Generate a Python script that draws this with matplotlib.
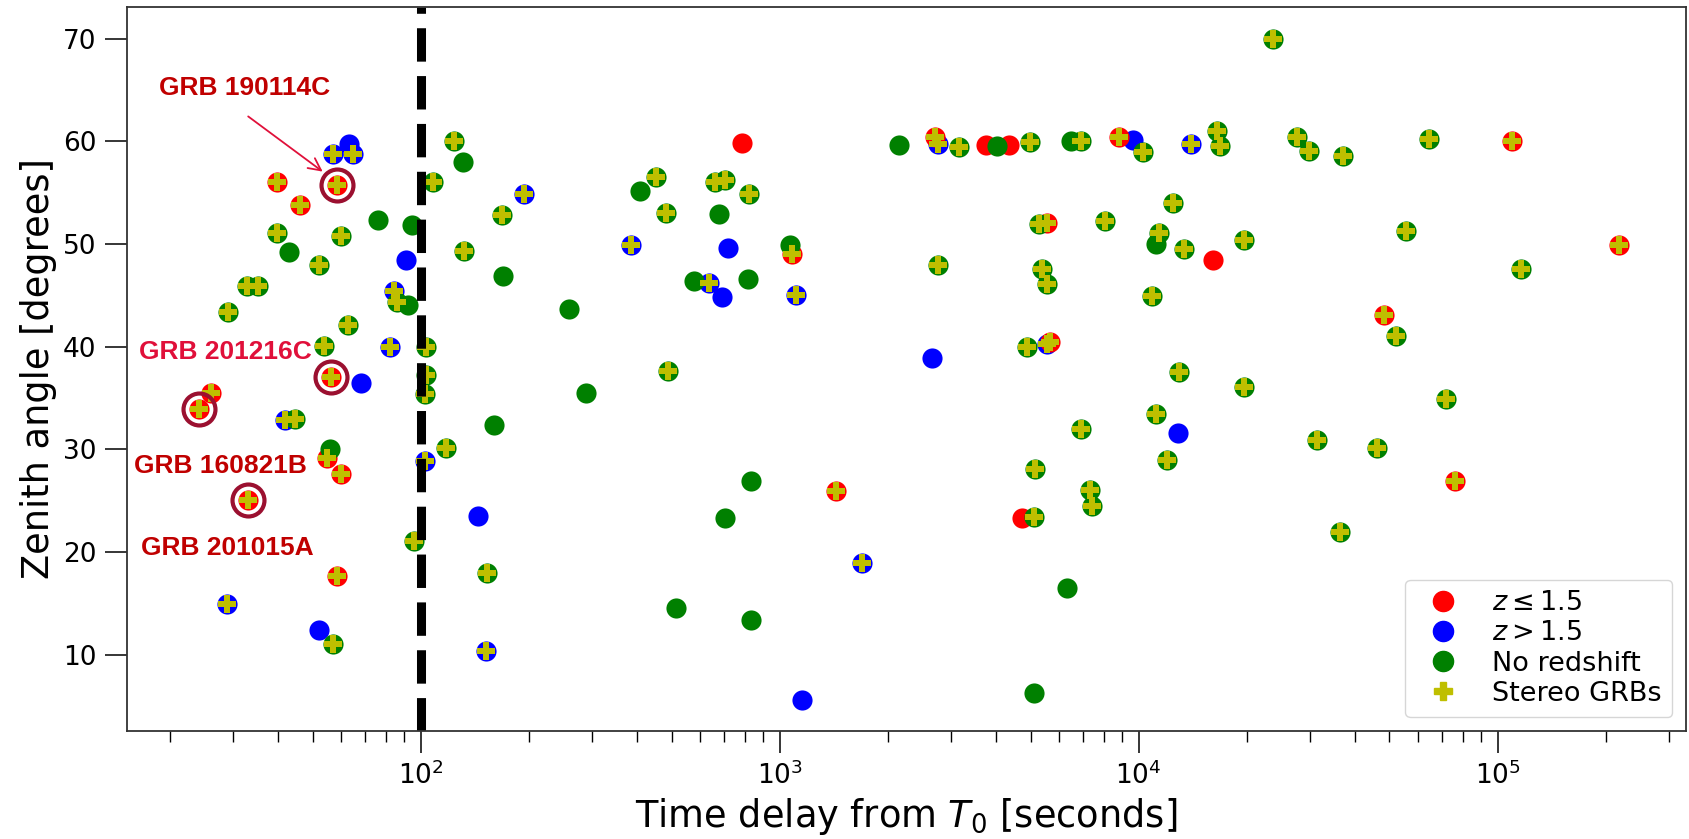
import numpy as np
import matplotlib.pyplot as plt
from matplotlib.lines import Line2D

# GRBs with z <= 1.5 : time delay [s], zenith [deg], stereo flag
red_t = [785, 3753, 4358, 16070, 4745,
         39.8, 46.0, 58.3, 56.1, 26.1, 24.1, 54.7, 59.8, 33.0, 58.3,
         1083, 1439, 2705, 5575, 5650, 8830, 109400, 217600, 48400, 75900]
red_zen = [59.87, 59.62, 59.62, 48.48, 23.3,
           56.05, 53.77, 55.8, 37.05, 35.48, 33.95, 29.18, 27.55, 25.1, 17.7,
           49.0, 25.9, 60.43, 52.03, 40.5, 60.43, 60.0, 49.94, 43.1, 26.96]
red_stereo = [0, 0, 0, 0, 0,
              1, 1, 1, 1, 1, 1, 1, 1, 1, 1,
              1, 1, 1, 1, 1, 1, 1, 1, 1, 1]

# GRBs with z > 1.5
blue_t = [63.2, 68.1, 91.0, 52.1, 144.3, 716, 691, 1151, 2650, 9620, 12840,
          57.0, 64.9, 84.4, 82.1, 41.8, 102.8, 28.9, 151.7, 194.5, 385, 634,
          1114, 1698, 2768, 5550, 14000]
blue_zen = [59.77, 36.43, 48.45, 12.44, 23.46, 49.64, 44.83, 5.59, 38.88, 60.11, 31.56,
            58.75, 58.75, 45.47, 40.0, 32.81, 28.88, 14.95, 10.31, 54.9, 49.94, 46.16,
            45.07, 18.91, 59.72, 40.3, 59.72]
blue_stereo = [0] * 11 + [1] * 16

# GRBs without redshift
green_t = [76.2, 94.4, 43.0, 92.3, 55.8, 131, 170, 259.4, 409, 679, 1072, 579, 815,
           2157, 4045, 6476, 11180, 6300, 5120, 289, 159.7, 834, 703, 515, 830,
           108.4, 39.8, 59.8, 52.1, 32.9, 35.2, 29.0, 85.7, 62.8, 53.7, 103.4, 103.4,
           102.8, 44.6, 95.8, 57.0, 124, 168.3, 132, 118, 453, 662, 703, 822, 481, 489,
           152.8, 3162, 4990, 6905, 10260, 16500, 16900, 12450, 5290, 8070, 11370,
           13400, 19630, 2768, 5370, 5570, 10890, 4880, 12970, 19630, 11170, 6900,
           11990, 5150, 7330, 7400, 5120, 23700, 27700, 29900, 37100, 64400, 55700,
           115900, 52000, 71900, 31400, 46100, 36400]
green_zen = [52.32, 51.82, 49.24, 44.03, 30.07, 57.98, 46.86, 43.68, 55.16, 52.92, 49.94,
             46.36, 46.56, 59.62, 59.52, 60.04, 50.04, 16.5, 6.28, 35.48, 32.33, 26.96,
             23.3, 14.52, 13.33,
             56.05, 51.11, 50.83, 47.95, 45.96, 45.96, 43.38, 44.38, 42.09, 40.11, 40.0,
             37.2, 35.42, 32.95, 21.04, 10.99, 60.07, 52.82, 49.29, 30.17, 56.5, 56.0,
             56.2, 54.9, 53.07, 37.62, 17.94, 59.47, 59.94, 60.04, 58.98, 61.0, 59.52,
             54.0, 51.92, 52.22, 51.03, 49.54, 50.43, 47.92, 47.61, 46.07, 44.93, 39.96,
             37.52, 36.06, 33.4, 31.94, 28.92, 28.04, 26.0, 24.51, 23.42, 69.95, 60.43,
             59.07, 58.58, 60.27, 51.27, 47.58, 41.0, 34.94, 30.94, 30.17, 21.99]
green_stereo = [0] * 25 + [1] * 65

# highlighted GRBs
grb_names = ['GRB 190114C', 'GRB 201216C', 'GRB 160821B', 'GRB 201015A']
grb_t = [58.3, 56.1, 24.1, 33.0]
grb_zen = [55.8, 37.05, 33.95, 25.1]

fig = plt.figure(figsize=(16.89, 8.39), dpi=100)
ax = fig.add_axes([127 / 1689, 1 - 731 / 839, (1686 - 127) / 1689, (731 - 6.5) / 839])

ms = 14.5
ax.plot(blue_t, blue_zen, 'o', color='b', ms=ms, mew=0, ls='none')
ax.plot(red_t, red_zen, 'o', color='r', ms=ms, mew=0, ls='none')
ax.plot(green_t, green_zen, 'o', color='g', ms=ms, mew=0, ls='none')

st_t, st_zen = [], []
for t, z, s in [(red_t, red_zen, red_stereo), (blue_t, blue_zen, blue_stereo),
                (green_t, green_zen, green_stereo)]:
    for a, b, c in zip(t, z, s):
        if c:
            st_t.append(a)
            st_zen.append(b)
ax.plot(st_t, st_zen, 'P', color='y', ms=12.5, mew=0, ls='none')

# rings around the named GRBs
ax.plot(grb_t, grb_zen, 'o', mfc='none', mec='#9b1030', ms=23, mew=3, ls='none')

ax.axvline(100, color='k', ls='--', lw=6.5)

lab_pos = [(32.4, 65.2), (28.6, 39.5), (27.7, 28.4), (28.9, 20.4)]
lab_col = ['#c00000', '#e0103a', '#c00000', '#c00000']
for name, (x, y), c in zip(grb_names, lab_pos, lab_col):
    ax.text(x, y, name, color=c, fontsize=19, fontweight='bold',
            family=['Liberation Sans', 'DejaVu Sans'], ha='center', va='center')
ax.annotate('', xy=(54.1, 56.9), xytext=(32.6, 62.6),
            arrowprops=dict(arrowstyle='->', color='#e0103a', lw=1.3, mutation_scale=22))

ax.set_xscale('log')
ax.set_xlim(15.2, 3.35e5)
ax.set_ylim(2.55, 73.15)
ax.set_yticks([10, 20, 30, 40, 50, 60, 70])
ax.tick_params(which='major', length=16, width=1.1, labelsize=19, pad=6)
ax.tick_params(which='minor', length=8, width=1.0)
for sp in ax.spines.values():
    sp.set_linewidth(1.3)
    sp.set_color('#333333')

ax.set_xlabel('Time delay from $T_0$ [seconds]', fontsize=26.5)
ax.set_ylabel('Zenith angle [degrees]', fontsize=26.5)

handles = [Line2D([], [], marker='o', color='r', ms=ms, ls='none'),
           Line2D([], [], marker='o', color='b', ms=ms, ls='none'),
           Line2D([], [], marker='o', color='g', ms=ms, ls='none'),
           Line2D([], [], marker='P', color='y', ms=12.5, ls='none')]
labels = [r'$z \leq 1.5$', r'$z > 1.5$', 'No redshift', 'Stereo GRBs']
ax.legend(handles, labels, loc='lower right', fontsize=19.5, labelspacing=0.15,
          handletextpad=0.8)

fig.savefig('out.png', dpi=100)
